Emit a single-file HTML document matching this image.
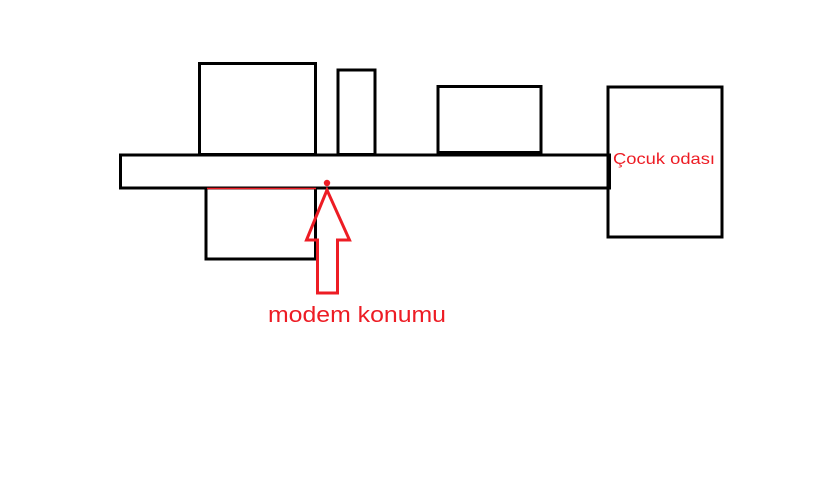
<!DOCTYPE html>
<html><head><meta charset="utf-8"><style>html,body{margin:0;padding:0;background:#fff}svg{display:block}</style></head>
<body>
<svg width="816" height="477" viewBox="0 0 816 477" xmlns="http://www.w3.org/2000/svg">
<g fill="none" stroke="#000" stroke-width="3">
<rect x="199.5" y="63.5" width="116" height="91"/>
<rect x="338" y="70" width="37" height="84.5"/>
<rect x="438" y="86.5" width="103" height="66"/>
<rect x="120.5" y="155" width="489" height="33"/>
<rect x="608" y="87" width="114" height="150"/>
<rect x="206" y="188" width="109.5" height="71"/>
</g>
<line x1="207" y1="188.5" x2="316" y2="188.5" stroke="#ed1c24" stroke-width="1.5"/>
<circle cx="327" cy="183" r="3.2" fill="#ed1c24"/>
<polygon points="327,190 306.5,240 317.5,240 317.5,293 337.5,293 337.5,240 349.5,240" fill="none" stroke="#ed1c24" stroke-width="3" stroke-linejoin="miter"/>
<text x="268" y="322" font-family="Liberation Sans, sans-serif" font-size="22" fill="#ed1c24" textLength="178" lengthAdjust="spacingAndGlyphs">modem konumu</text>
<text x="613" y="164" font-family="Liberation Sans, sans-serif" font-size="16" fill="#ed1c24" textLength="102" lengthAdjust="spacingAndGlyphs">Çocuk odası</text>
</svg>
</body></html>
